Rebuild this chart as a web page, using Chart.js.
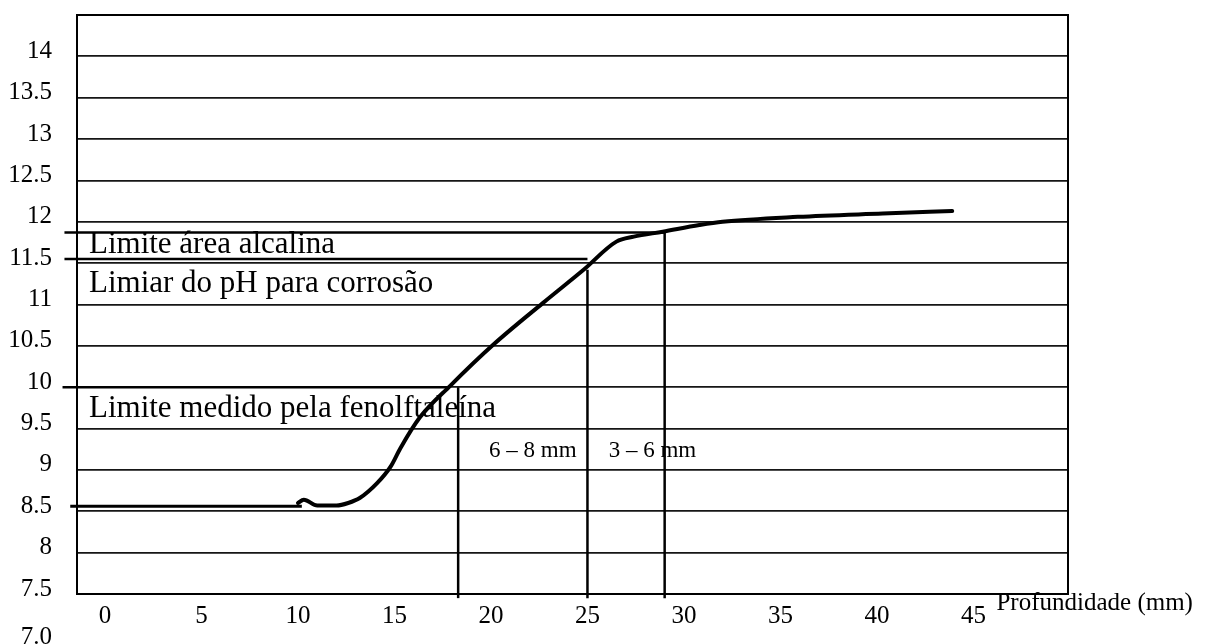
<!DOCTYPE html>
<html lang="pt">
<head>
    <meta charset="UTF-8">
    <title>pH x Profundidade</title>
    <script src="https://cdn.jsdelivr.net/npm/chart.js"></script>
    <style>
        body {
            margin: 0;
            background: #fff;
        }
        #wrap {
            width: 1227px;
            height: 644px;
        }
    </style>
</head>
<body>
    <div id="wrap"><canvas id="phChart" width="1227" height="644"></canvas></div>

    <script>
        // eixos
        const xTicks = [0, 5, 10, 15, 20, 25, 30, 35, 40, 45];
        const yTicks = [7.5, 8, 8.5, 9, 9.5, 10, 10.5, 11, 11.5, 12, 12.5, 13, 13.5, 14, 14.5];
        const extraYLabel = '7.0';
        const xTitle = 'Profundidade (mm)';

        // curva de pH medida
        const depth = [10.0, 10.3, 11.0, 12.0, 12.6, 13.2, 14.1, 14.8, 15.3, 16.3, 17.9, 20.1, 22.7, 24.8, 26.5, 27.4, 28.9, 30.8, 32.0, 35.9, 40.3, 43.9];
        const ph    = [8.60, 8.64, 8.57, 8.57, 8.60, 8.66, 8.84, 9.04, 9.26, 9.63, 10.02, 10.51, 11.02, 11.42, 11.76, 11.82, 11.88, 11.96, 12.00, 12.06, 12.10, 12.13];

        // patamar inicial (pH do concreto carbonatado)
        const baseDepth = [-1.8, 10.2];
        const basePh = [8.56, 8.56];

        // linhas de referencia horizontais
        const hLevels = [11.87, 11.55, 10.0];
        const hStarts = [-2.1, -2.1, -2.2];
        const hEnds = [29.0, 25.0, 17.8];

        // linhas verticais
        const vDepths = [18.3, 25.0, 29.0];
        const vTops = [10.0, 11.42, 11.88];
        const vBottom = 7.45;

        // textos
        const notes = ['Limite área alcalina', 'Limiar do pH para corrosão', 'Limite medido pela fenolftaleína'];
        const noteX = -0.83;
        const noteY = [11.62, 11.15, 9.64];
        const zones = ['6 – 8 mm', '3 – 6 mm'];
        const zoneX = [19.9, 26.1];
        const zoneY = 9.16;

        const serif = '"Liberation Serif", "Times New Roman", serif';

        function segment(xs, ys, width) {
            return {
                data: xs.map((v, i) => ({ x: v, y: ys[i] })),
                showLine: true,
                borderColor: '#000',
                borderWidth: width,
                pointRadius: 0,
                clip: false
            };
        }

        const datasets = [];
        datasets.push(segment(baseDepth, basePh, 3));
        hLevels.forEach((lv, i) => datasets.push(segment([hStarts[i], hEnds[i]], [lv, lv], 2.5)));
        vDepths.forEach((d, i) => datasets.push(segment([d, d], [vBottom, vTops[i]], 2.5)));
        const curve = segment(depth, ph, 4);
        curve.cubicInterpolationMode = 'monotone';
        curve.borderCapStyle = 'round';
        datasets.push(curve);

        const decor = {
            id: 'decor',
            afterDatasetsDraw(chart) {
                const { ctx, chartArea: a, scales: { x, y } } = chart;
                ctx.save();
                ctx.strokeStyle = '#000';
                ctx.lineWidth = 2;
                ctx.strokeRect(a.left, a.top, a.right - a.left, a.bottom - a.top);

                ctx.fillStyle = '#000';
                ctx.textAlign = 'left';
                ctx.textBaseline = 'alphabetic';
                ctx.font = '31px ' + serif;
                notes.forEach((t, i) => ctx.fillText(t, x.getPixelForValue(noteX), y.getPixelForValue(noteY[i])));

                ctx.font = '23px ' + serif;
                zones.forEach((t, i) => ctx.fillText(t, x.getPixelForValue(zoneX[i]), y.getPixelForValue(zoneY)));

                ctx.font = '25px ' + serif;
                ctx.fillText(xTitle, x.getPixelForValue(45) + 23, a.bottom + 16);

                ctx.textAlign = 'right';
                ctx.textBaseline = 'middle';
                ctx.fillText(extraYLabel, a.left - 25, y.getPixelForValue(7.0) + 2);
                ctx.restore();
            }
        };

        new Chart(document.getElementById('phChart'), {
            type: 'scatter',
            data: { datasets: datasets },
            options: {
                responsive: false,
                animation: false,
                layout: { padding: { top: 15, right: 159, left: 0, bottom: 0 } },
                plugins: {
                    legend: { display: false },
                    tooltip: { enabled: false }
                },
                scales: {
                    x: {
                        type: 'linear',
                        min: -1.45,
                        max: 49.9,
                        afterBuildTicks: s => { s.ticks = xTicks.map(v => ({ value: v })); },
                        afterFit: s => {
                            s.height = 50;
                            s.paddingLeft = 0;
                            s.paddingRight = 0;
                        },
                        grid: { display: false },
                        border: { display: false },
                        ticks: {
                            color: '#000',
                            font: { family: serif, size: 25 },
                            padding: -1,
                            maxRotation: 0,
                            autoSkip: false
                        }
                    },
                    y: {
                        type: 'linear',
                        min: 7.5,
                        max: 14.5,
                        afterBuildTicks: s => { s.ticks = yTicks.map(v => ({ value: v })); },
                        afterFit: s => {
                            s.width = 77;
                            s.paddingTop = 0;
                            s.paddingBottom = 0;
                        },
                        grid: { color: '#161616', lineWidth: 1.8, drawTicks: false },
                        border: { display: false },
                        ticks: {
                            color: '#000',
                            font: { family: serif, size: 25 },
                            padding: 25,
                            labelOffset: -5,
                            callback: v => (v === 14.5 ? '' : String(v))
                        }
                    }
                }
            },
            plugins: [decor]
        });
    </script>
</body>
</html>
